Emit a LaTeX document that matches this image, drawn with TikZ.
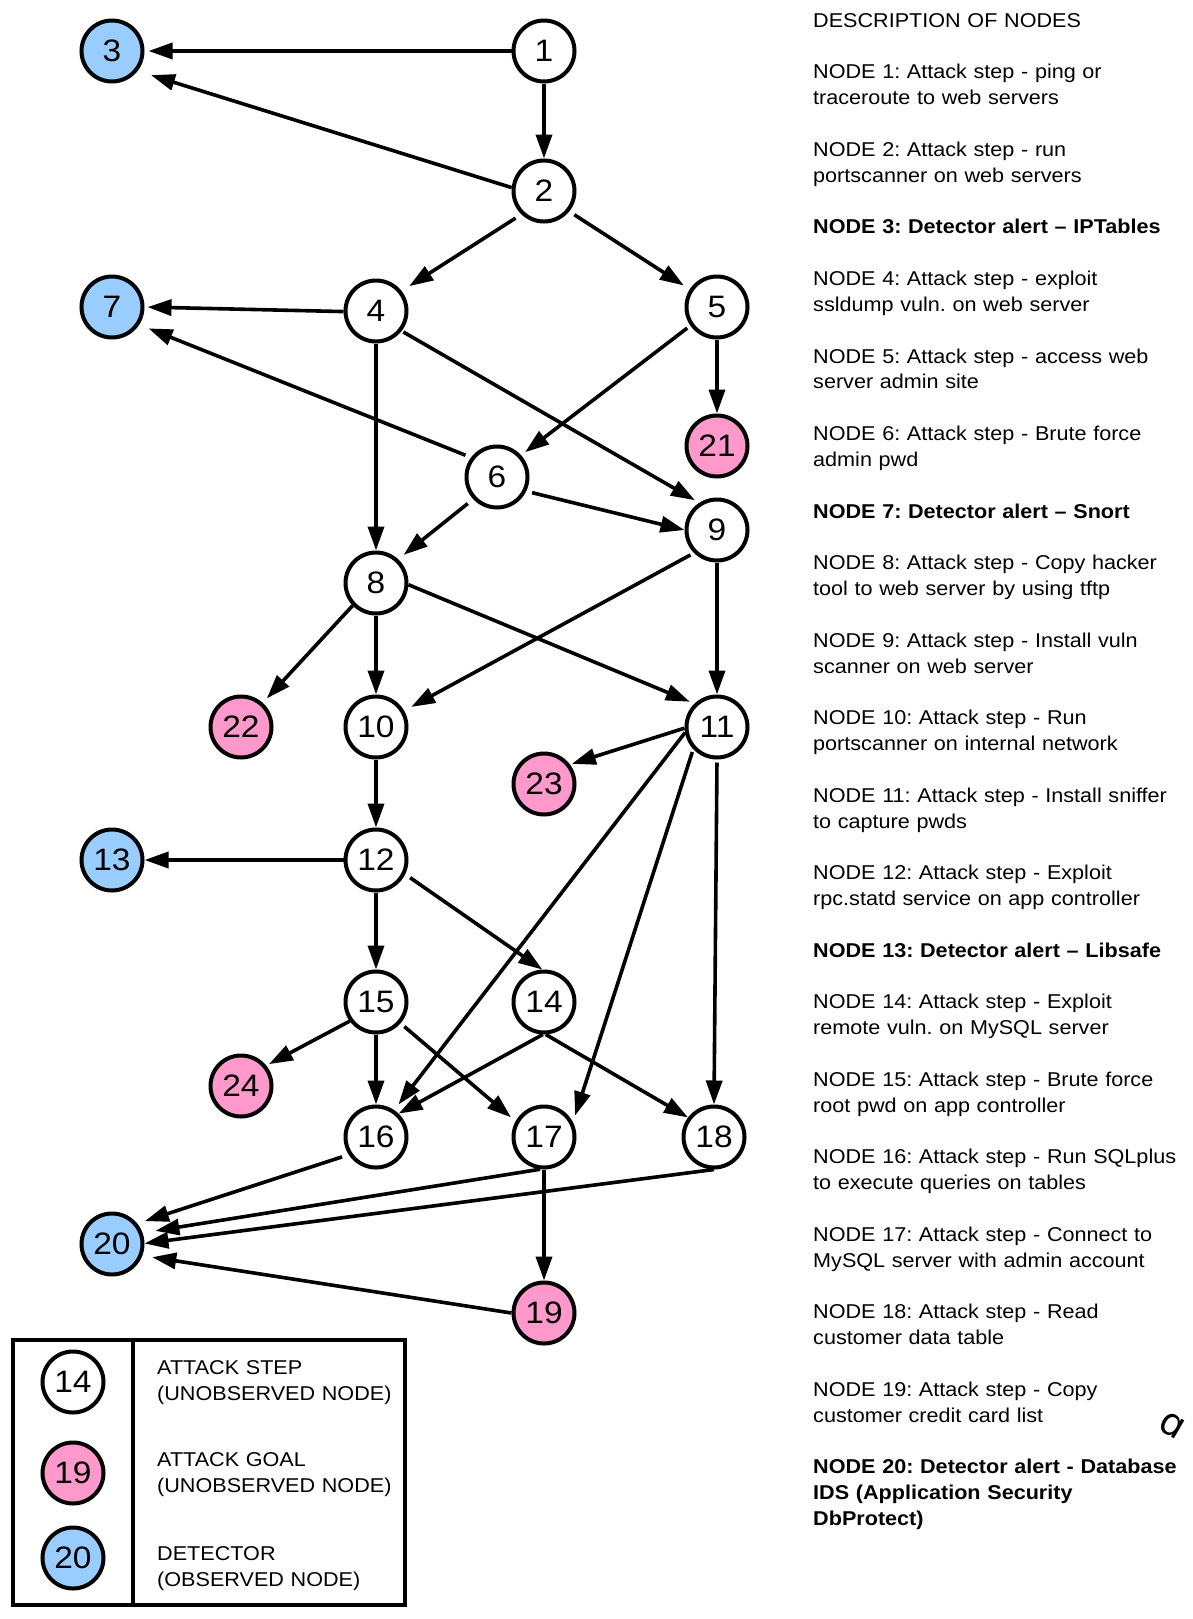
\documentclass[tikz,border=0pt]{standalone}
\usepackage{fontspec}
\setmainfont{Liberation Sans}[FakeStretch=1.08]
\newfontfamily\strayfont{DejaVu Sans}
\usetikzlibrary{arrows.meta}
\definecolor{goalpink}{RGB}{255,153,204}
\definecolor{detblue}{RGB}{153,204,255}
\frenchspacing
\begin{document}
\begin{tikzpicture}[x=1pt,y=-1pt,
  nd/.style={circle,draw=black,line width=4pt,minimum size=61pt,inner sep=0pt,fill=white,font=\fontsize{31}{31}\selectfont},
  goal/.style={nd,fill=goalpink},
  det/.style={nd,fill=detblue},
  edge/.style={line width=3.6pt,-{Triangle[length=24pt,width=16pt]}},
  desc/.style={anchor=base west,text width=370pt,align=left,inner sep=0pt,font=\frenchspacing\fontsize{20}{25.83}\selectfont},
  leg/.style={anchor=base west,text width=240pt,align=left,inner sep=0pt,font=\frenchspacing\fontsize{20}{26}\selectfont}
]
\useasboundingbox[fill=white] (0,0) rectangle (1192,1619);

% graph nodes
\node[nd]   (n1)  at (544,51)   {1};
\node[nd]   (n2)  at (544,191)  {2};
\node[det]  (n3)  at (112,51)   {3};
\node[nd]   (n4)  at (376,311)  {4};
\node[nd]   (n5)  at (717,307)  {5};
\node[det]  (n7)  at (112,307)  {7};
\node[goal] (n21) at (717,446)  {21};
\node[nd]   (n6)  at (497,477)  {6};
\node[nd]   (n9)  at (717,530)  {9};
\node[nd]   (n8)  at (376,583)  {8};
\node[goal] (n22) at (241,727)  {22};
\node[nd]   (n10) at (376,727)  {10};
\node[nd]   (n11) at (717,727)  {11};
\node[goal] (n23) at (544,784)  {23};
\node[nd]   (n12) at (376,860)  {12};
\node[det]  (n13) at (112,860)  {13};
\node[nd]   (n15) at (376,1002) {15};
\node[nd]   (n14) at (544,1002) {14};
\node[goal] (n24) at (241,1086) {24};
\node[nd]   (n16) at (376,1137) {16};
\node[nd]   (n17) at (544,1137) {17};
\node[nd]   (n18) at (714,1137) {18};
\node[det]  (n20) at (112,1244) {20};
\node[goal] (n19) at (544,1313) {19};

% connectors
\draw[edge,shorten >=4pt] (n1.180) -- (n3.0);
\draw[edge] (n1.270) -- (n2.90);
\draw[edge,shorten >=14pt] (n2.174) -- (n3.-38);
\draw[edge,shorten <=7pt,shorten >=9pt] (n2.226.5) -- (n4.38);
\draw[edge,shorten <=6pt,shorten >=7pt] (n2.-39) -- (n5.147);
\draw[edge,shorten >=3pt] (n4.181) -- (n7.0);
\draw[edge] (n4.270) -- (n8.90);
\draw[edge,shorten <=2pt,shorten >=5pt] (n4.-38) -- (n9.123);
\draw[edge,shorten <=4pt,shorten >=5pt] (n5.215) -- (n6.42);
\draw[edge] (n5.270) -- (n21.90);
\draw[edge,shorten <=6pt,shorten >=10pt] (n6.143) -- (n7.-33);
\draw[edge,shorten <=7pt,shorten >=7pt] (n6.223) -- (n8.47);
\draw[edge,shorten <=6pt] (n6.-26.5) -- (n9.180);
\draw[edge,shorten >=6pt] (n8.224) -- (n22.48);
\draw[edge] (n8.270) -- (n10.90);
\draw[edge,shorten >=5pt] (n8.-3) -- (n11.134);
\draw[edge,shorten <=4pt,shorten >=8pt] (n9.225) -- (n10.30);
\draw[edge] (n9.270) -- (n11.90);
\draw[edge,shorten >=2pt] (n11.182) -- (n23.37);
\draw[edge,shorten >=7pt] (n11.190) -- (n16.56);
\draw[edge,shorten <=3pt,shorten >=7pt] (n11.223) -- (n17.27);
\draw[edge,shorten <=3pt] (n11.270) -- (n18.90);
\draw[edge] (n10.270) -- (n12.90);
\draw[edge] (n12.180) -- (n13.0);
\draw[edge,shorten <=6pt] (n12.-26) -- (n14.93);
\draw[edge] (n12.270) -- (n15.90);
\draw[edge,shorten >=3pt] (n15.216) -- (n24.39);
\draw[edge] (n15.270) -- (n16.90);
\draw[edge,shorten <=5pt,shorten >=6pt] (n15.-41) -- (n17.151);
\draw[edge] (n14.268) -- (n16.46);
\draw[edge] (n14.273) -- (n18.143);
\draw[edge,shorten <=7pt,shorten >=8pt] (n16.213) -- (n20.39);
\draw[edge,shorten >=13pt] (n17.263) -- (n20.20);
\draw[edge] (n18.270) -- (n20.1);
\draw[edge] (n17.270) -- (n19.90);
\draw[edge,shorten >=10pt] (n19.180) -- (n20.-21);

% legend
\draw[line width=4pt] (13,1340) rectangle (405,1605);
\draw[line width=4pt] (133,1340) -- (133,1605);
\node[nd]   (l14) at (73,1382) {14};
\node[goal] (l19) at (73,1473) {19};
\node[det]  (l20) at (73,1558) {20};
\node[leg] (lt1) at (157,1374.3) {ATTACK STEP\\(UNOBSERVED NODE)};
\node[leg] (lt2) at (157,1466.7) {ATTACK GOAL\\(UNOBSERVED NODE)};
\node[leg] (lt3) at (157,1560)   {DETECTOR\\(OBSERVED NODE)};

% description of nodes
\node[desc] (d0)  at (813,27.3)            {DESCRIPTION OF NODES};
\node[desc] (d1)  at (813,27.3+2*25.83)    {NODE 1: Attack step - ping or\\traceroute to web servers};
\node[desc] (d2)  at (813,27.3+5*25.83)    {NODE 2: Attack step - run\\portscanner on web servers};
\node[desc] (d3)  at (813,27.3+8*25.83)    {\bfseries NODE 3: Detector alert – IPTables};
\node[desc] (d4)  at (813,27.3+10*25.83)   {NODE 4: Attack step - exploit\\ssldump vuln. on web server};
\node[desc] (d5)  at (813,27.3+13*25.83)   {NODE 5: Attack step - access web\\server admin site};
\node[desc] (d6)  at (813,27.3+16*25.83)   {NODE 6: Attack step - Brute force\\admin pwd};
\node[desc] (d7)  at (813,27.3+19*25.83)   {\bfseries NODE 7: Detector alert – Snort};
\node[desc] (d8)  at (813,27.3+21*25.83)   {NODE 8: Attack step - Copy hacker\\tool to web server by using tftp};
\node[desc] (d9)  at (813,27.3+24*25.83)   {NODE 9: Attack step - Install vuln\\scanner on web server};
\node[desc] (d10) at (813,27.3+27*25.83)   {NODE 10: Attack step - Run\\portscanner on internal network};
\node[desc] (d11) at (813,27.3+30*25.83)   {NODE 11: Attack step - Install sniffer\\to capture pwds};
\node[desc] (d12) at (813,27.3+33*25.83)   {NODE 12: Attack step - Exploit\\rpc.statd service on app controller};
\node[desc] (d13) at (813,27.3+36*25.83)   {\bfseries NODE 13: Detector alert – Libsafe};
\node[desc] (d14) at (813,27.3+38*25.83)   {NODE 14: Attack step - Exploit\\remote vuln. on MySQL server};
\node[desc] (d15) at (813,27.3+41*25.83)   {NODE 15: Attack step - Brute force\\root pwd on app controller};
\node[desc] (d16) at (813,27.3+44*25.83)   {NODE 16: Attack step - Run SQLplus\\to execute queries on tables};
\node[desc] (d17) at (813,27.3+47*25.83)   {NODE 17: Attack step - Connect to\\MySQL server with admin account};
\node[desc] (d18) at (813,27.3+50*25.83)   {NODE 18: Attack step - Read\\customer data table};
\node[desc] (d19) at (813,27.3+53*25.83)   {NODE 19: Attack step - Copy\\customer credit card list};
\node[desc] (d20) at (813,27.3+56*25.83)   {\bfseries NODE 20: Detector alert - Database\\IDS (Application Security\\DbProtect)};

% stray mark
\node[inner sep=0pt,rotate=-30,font=\strayfont\fontsize{38}{38}\selectfont] (stray) at (1172,1426) {ɑ};
\end{tikzpicture}
\end{document}
